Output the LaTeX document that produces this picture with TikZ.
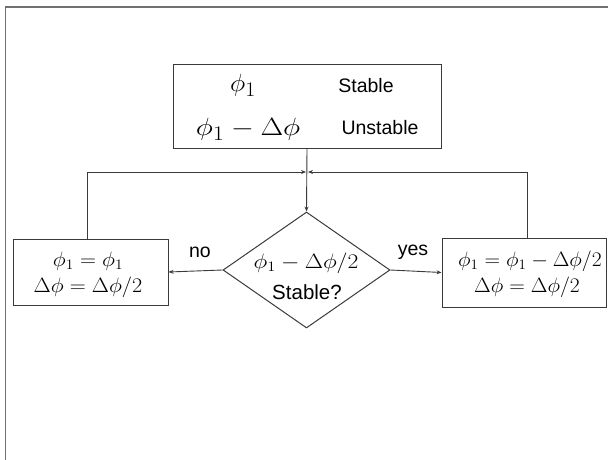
\documentclass[tikz,border=0pt]{standalone}
\usepackage{graphicx}
\usepackage{fontspec}
\setmainfont{Liberation Sans}
\usetikzlibrary{shapes.geometric,arrows.meta}
\definecolor{linec}{HTML}{3A3A3A}
\definecolor{framec}{HTML}{707070}
\tikzset{
  boxc/.style={draw=linec, line width=1pt, rectangle, inner sep=0pt},
  conn/.style={draw=linec, line width=0.9pt},
  arr/.style={conn, -{Stealth[length=5pt,width=4pt]}},
  sans/.style={font=\fontsize{19.5}{22}\selectfont, inner sep=0pt},
  mbig/.style={font=\fontsize{32}{34}\selectfont, inner sep=0pt},
  msmall/.style={font=\fontsize{22}{24}\selectfont, inner sep=0pt, align=center},
}
\newcommand{\hs}[2]{\scalebox{#1}[1]{#2}}
\begin{document}
\begin{tikzpicture}[x=1pt,y=-1pt]
\useasboundingbox (0,0) rectangle (608,460);
\draw[framec, line width=1.5pt] (608,7) -- (5.5,7) -- (5.5,460);
% top box
\node[boxc, minimum width=268pt, minimum height=84pt] (top) at (307,106.5) {};
\node[mbig] (t1) at (243,85) {\hs{1.05}{$\phi_1$}};
\node[sans] (t2) at (366,86) {Stable};
\node[mbig] (t3) at (248,129) {\hs{1.18}{$\phi_1-\Delta\phi$}};
\node[sans] (t4) at (380,128) {Unstable};
% diamond
\node[diamond, draw=linec, line width=1pt, minimum width=167pt, minimum height=116pt, inner sep=0pt] (dia) at (306.5,270) {};
\node[msmall] (d1) at (306,263) {\hs{1.14}{$\phi_1-\Delta\phi/2$}};
\node[sans] (d2) at (307,292) {\fontsize{20.5}{22}\selectfont Stable?};
% left box
\node[boxc, minimum width=155pt, minimum height=66pt] (lb) at (90.5,272) {};
\node[msmall] (l1) at (88,261.5) {\hs{1.07}{$\phi_1=\phi_1$}};
\node[msmall] (l2) at (88,287) {\hs{1.07}{$\Delta\phi=\Delta\phi/2$}};
% right box
\node[boxc, minimum width=164pt, minimum height=69pt] (rb) at (524,272.5) {};
\node[msmall] (r1) at (530,261) {\hs{1.04}{$\phi_1=\phi_1-\Delta\phi/2$}};
\node[msmall] (r2) at (527,287.5) {\hs{1.04}{$\Delta\phi=\Delta\phi/2$}};
% labels
\node[sans] (no) at (200,252) {no};
\node[sans] (yes) at (413,252) {yes};
% connectors
\coordinate (J) at (307,172);
\draw[arr] (top.south) -- (dia.north);
\draw[arr] (lb.north -| 87,0) |- ([xshift=-1pt]J);
\draw[arr] (rb.north -| 527,0) |- ([xshift=1pt]J);
\draw[arr] (dia.west) -- (lb.east);
\draw[arr] (dia.east) -- (rb.west);
\end{tikzpicture}
\end{document}
